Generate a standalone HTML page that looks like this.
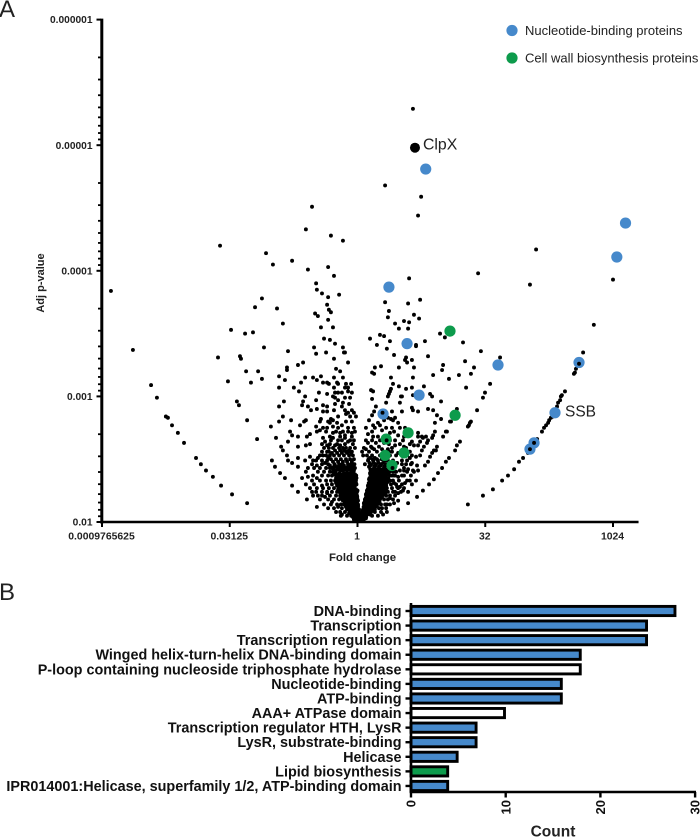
<!DOCTYPE html>
<html lang="en">
<head>
<meta charset="utf-8">
<title>Volcano plot and functional category counts</title>
<style>
html,body{margin:0;padding:0;background:#fff;}
svg{display:block;font-family:"Liberation Sans",Arial,sans-serif;}
</style>
</head>
<body>
<svg id="figure" width="700" height="837" viewBox="0 0 700 837" xmlns="http://www.w3.org/2000/svg">
  <text x="-1" y="17" font-size="24" fill="#222">A</text>
  <text x="-1" y="600" font-size="24" fill="#222">B</text>
  <g id="volcano"></g>
  <text transform="translate(44,283) rotate(-90)" text-anchor="middle" font-size="11" font-weight="bold" fill="#222">Adj p-value</text>
  <text x="362.5" y="561" text-anchor="middle" font-size="11.4" font-weight="bold" fill="#222">Fold change</text>
  <circle cx="512" cy="30.5" r="5.6" fill="#4689cb"/>
  <text x="525" y="35" font-size="13" fill="#222">Nucleotide-binding proteins</text>
  <circle cx="512" cy="58" r="5.6" fill="#0d9b4c"/>
  <text x="525" y="62.5" font-size="13" fill="#222">Cell wall biosynthesis proteins</text>
  <text x="423" y="149.5" font-size="15.8" fill="#222">ClpX</text>
  <text x="565" y="416.5" font-size="15.5" fill="#222">SSB</text>
  <g id="bars"></g>
  <text x="553" y="836.5" text-anchor="middle" font-size="15.5" font-weight="bold" fill="#222">Count</text>
</svg>
<script>
// ---------- Volcano data: log2 fold change and -log10 adjusted p ----------
const topLog2FC=[-5.38,-3.58,-3.31,-2.56,-1.94,-1.78,-2.02,-1.04,-0.57,-1.15,-0.92,2.17,1.08,2.49,2.37,6.99,2.02,4.72,10.0];
const topNegLogP=[4.20,4.14,4.05,4.08,4.01,4.51,4.33,4.28,4.24,4.03,3.96,5.29,4.68,4.59,4.44,4.17,3.94,3.98,3.93];

const leftArcLog2FC=[-9.65,-8.79,-8.08,-7.85,-7.50,-7.42,-7.26,-7.03,-6.79,-6.32,-6.13,-5.93,-5.66,-5.34,-4.91,-4.32];
const leftArcNegLogP=[3.84,3.37,3.09,2.99,2.84,2.83,2.77,2.71,2.63,2.51,2.46,2.41,2.36,2.29,2.22,2.15];

const leftFarLog2FC=[-4.95,-4.40,-4.09,-4.01,-3.74,-3.15,-2.92,-3.66,-5.46,-4.60,-4.56,-4.36,-3.89,-3.74,-4.17,-5.07,-4.72,-4.64,-4.32,-3.93,-3.39,-3.19,-3.07,-2.92,-3.07,-2.88,-3.07,-3.07,-2.84,-2.76,-2.76,-2.72];
const leftFarNegLogP=[3.53,3.50,3.51,3.71,3.78,3.70,3.58,3.39,3.31,3.32,3.30,3.20,3.20,3.14,3.11,3.12,2.96,2.93,2.81,2.66,2.76,2.67,2.80,2.84,2.92,2.96,3.07,3.16,3.13,3.23,3.21,3.36];

const leftUpperLog2FC=[-2.33,-2.13,-2.49,-2.29,-2.21,-2.05,-1.74,-1.59,-1.43,-1.70,-1.62,-1.23,-1.31,-1.08,-0.88,-0.57,-0.53,-0.49,-0.92,-0.37,-0.84,-0.68,-1.43,-0.96,-1.15,-1.66,-1.55,-1.19,-1.12,-1.04,-1.62,-1.59,-1.39,-1.15,-0.72,-0.92,-0.57,-1.35,-1.19,-1.12,-0.80,-0.92,-0.49,-0.37,-0.37,-1.51,-1.19,-0.88,-0.76,-0.96,-0.88];
const leftUpperNegLogP=[3.25,3.27,3.07,3.04,3.11,3.15,3.15,3.13,3.16,3.39,3.34,3.35,3.46,3.45,3.42,3.39,3.35,3.35,3.30,3.27,3.22,3.20,3.55,3.55,3.61,3.66,3.64,3.73,3.69,3.67,3.90,3.85,3.82,3.79,3.81,3.15,3.15,3.11,3.11,3.10,3.11,3.07,3.07,3.07,3.04,3.03,3.02,3.03,3.03,3.00,2.99];

const leftMidLog2FC=[-2.05,-2.13,-2.17,-1.94,-1.62,-1.82,-1.59,-1.35,-1.19,-1.35,-1.19,-0.76,-0.57,-0.61,-0.45,-0.37,-0.14,-2.60,-2.02,-2.09,-2.25,-1.43,-1.47,-1.04,-0.96,-1.08,-0.80,-0.61,-0.96,-2.64,-2.56,-2.33,-2.72,-2.99,-2.33,-1.62,-1.59,-1.35,-1.19,-1.47,-1.98,-1.86,-2.02,-1.86,-0.96,-0.68,-0.49,-0.22,-0.10];
const leftMidNegLogP=[3.00,2.96,2.93,2.92,2.97,2.89,2.90,2.93,2.92,2.88,2.88,2.97,2.95,2.92,2.86,2.87,2.87,2.81,2.81,2.80,2.77,2.82,2.80,2.82,2.81,2.79,2.79,2.77,2.76,2.72,2.69,2.68,2.64,2.60,2.60,2.76,2.72,2.75,2.75,2.73,2.68,2.70,2.61,2.62,2.71,2.71,2.69,2.71,2.72];

const leftLowLog2FC=[-1.35,-1.27,-1.19,-1.12,-0.96,-0.76,-0.49,-0.37,-0.88,-0.68,-0.57,-0.37,-0.22,-2.92,-2.76,-2.72,-2.56,-2.33,-3.35,-3.23,-3.03,-2.84,-2.05,-1.86,-1.74,-1.55,-1.35,-1.15,-1.59,-1.47,-1.27,-1.08,-2.33,-2.17,-1.94,-1.74,-1.59,-2.56,-2.33,-1.98,-1.78,-1.59,-1.39,-1.19,-1.59,-1.39,-1.55,-1.27,-1.00,-0.76,-0.61];
const leftLowNegLogP=[2.67,2.64,2.61,2.59,2.67,2.65,2.67,2.64,2.61,2.61,2.59,2.56,2.56,2.57,2.53,2.49,2.47,2.51,2.49,2.44,2.39,2.35,2.49,2.52,2.49,2.51,2.53,2.51,2.45,2.43,2.47,2.45,2.44,2.35,2.36,2.37,2.35,2.29,2.24,2.18,2.24,2.27,2.24,2.23,2.12,2.29,2.21,2.20,2.16,2.12,2.06];

const rightArcLog2FC=[6.75,9.25,8.83,8.67,8.47,8.51,8.55,8.12,8.00,7.96,7.93,7.85,7.81,7.65,7.57,7.50,7.46,7.38,7.30,7.22,7.03,6.91,6.79,6.67,6.48,6.32,6.13,5.89,5.66,5.30,4.91,4.32];
const rightArcNegLogP=[3.89,3.57,3.35,3.26,3.18,3.19,3.22,3.04,3.01,3.00,2.97,2.95,2.92,2.84,2.83,2.81,2.79,2.77,2.75,2.72,2.66,2.63,2.58,2.55,2.51,2.48,2.42,2.37,2.33,2.26,2.21,2.14];

const innerArcLog2FC=[5.58,5.19,4.99,4.91,4.68,4.44,4.40,4.36,4.32,4.01,3.89,3.82,3.58,3.46,3.31,3.15,2.99,2.80,2.56,2.33,1.98,1.59,4.83,4.21,4.56,4.44,3.97,4.13,4.25,3.89,3.66,3.46,3.35,3.07];
const innerArcNegLogP=[3.31,3.10,3.03,2.99,2.89,2.80,2.79,2.77,2.76,2.64,2.61,2.57,2.51,2.48,2.43,2.39,2.34,2.30,2.25,2.20,2.15,2.10,3.36,3.28,3.23,3.18,3.17,3.43,3.07,2.90,2.80,2.72,2.68,2.57];

const rightUpperLog2FC=[1.08,1.98,2.45,1.23,1.19,2.21,2.41,1.47,1.62,1.82,2.02,1.98,3.23,3.42,0.88,1.04,0.49,0.76,1.27,1.15,2.29,2.29,2.64,1.43,2.76,1.90,1.86,1.94,2.13,0.68,0.92,1.62,2.21,3.35,3.31,0.57,0.65,2.96,3.58,1.31,2.17,1.39,1.62,1.31,1.27,1.90,2.13,2.60,0.53,0.61,2.84,2.92,1.23,1.19,1.70,2.17,0.57,3.27];
const rightUpperNegLogP=[3.75,3.74,3.77,3.68,3.63,3.65,3.62,3.58,3.54,3.60,3.59,3.54,3.50,3.47,3.49,3.48,3.46,3.41,3.44,3.38,3.41,3.40,3.44,3.33,3.32,3.31,3.29,3.27,3.29,3.23,3.24,3.23,3.23,3.25,3.21,3.19,3.18,3.17,3.14,3.15,3.15,3.10,3.08,3.06,3.04,3.06,3.07,3.08,3.05,3.04,3.02,3.00,3.02,3.00,3.00,3.01,2.98,2.96];

const rightMidLog2FC=[1.12,1.66,1.74,2.13,2.17,2.37,1.74,2.76,2.96,3.11,3.27,3.03,3.50,3.62,0.72,0.57,1.47,1.31,1.19,0.80,0.88,0.61,0.41,0.57,0.68,0.96,1.59,1.66,1.43,1.27,1.59,2.37,2.52,2.56,2.68,2.76,2.72,2.60,2.52,2.45,2.37,2.45,2.37,3.03,2.96,2.92,3.11,2.99,2.92,2.84,2.76,2.64];
const rightMidNegLogP=[2.95,2.95,3.00,2.91,2.89,2.88,2.88,2.90,2.89,2.85,2.82,2.79,2.72,2.80,2.92,2.85,2.83,2.82,2.83,2.79,2.77,2.77,2.70,2.72,2.75,2.73,2.79,2.75,2.72,2.71,2.69,2.71,2.68,2.67,2.68,2.65,2.63,2.60,2.57,2.53,2.68,2.64,2.61,2.72,2.69,2.67,2.60,2.57,2.55,2.52,2.48,2.45];

const rightLowLog2FC=[2.13,2.21,2.05,2.13,2.29,2.33,2.37,2.17,1.98,1.82,1.74,2.05,1.86,2.29,1.66,1.78,1.98,1.59,1.43,1.55,1.39,1.59,1.27,1.43,0.96,1.00,1.15,1.47,1.59,1.66,1.55,1.39,1.35,1.47,1.59,1.82,1.94,1.27,1.08];
const rightLowNegLogP=[2.64,2.61,2.51,2.47,2.52,2.45,2.41,2.41,2.42,2.41,2.37,2.33,2.31,2.33,2.28,2.25,2.24,2.23,2.31,2.28,2.24,2.17,2.19,2.15,2.11,2.06,2.14,2.37,2.36,2.41,2.47,2.49,2.56,2.61,2.55,2.60,2.53,2.65,2.68];

// Dense core of the plot, read row by row
const leftCoreRowNegLogP=[2.57,2.55,2.53,2.50,2.48,2.45,2.43,2.41,2.38,2.36,2.33,2.31,2.29,2.26,2.24,2.21,2.19,2.17,2.14,2.12,2.10,2.07,2.05,2.02,2.01];
const leftCoreRowLog2FC=[
[-0.88,-0.68,-0.53,-0.33],
[-1.00,-0.80,-0.61,-0.41,-0.25],
[-0.92,-0.72,-0.53,-0.33,-0.18],
[-1.04,-0.84,-0.65,-0.45,-0.29,-0.14],
[-0.96,-0.76,-0.57,-0.41,-0.22],
[-0.88,-0.68,-0.53,-0.33,-0.18],
[-1.00,-0.80,-0.65,-0.45,-0.29,-0.10],
[-0.84,-0.68,-0.57,-0.41,-0.25,-0.14],
[-0.92,-0.76,-0.65,-0.49,-0.37,-0.22,-0.10],
[-0.80,-0.68,-0.57,-0.45,-0.33,-0.22,-0.10],
[-0.88,-0.76,-0.65,-0.53,-0.41,-0.29,-0.18,-0.06],
[-0.84,-0.72,-0.61,-0.49,-0.37,-0.25,-0.14,-0.06],
[-0.80,-0.68,-0.57,-0.45,-0.33,-0.22,-0.10],
[-0.76,-0.65,-0.53,-0.41,-0.29,-0.18,-0.06],
[-0.72,-0.61,-0.49,-0.37,-0.25,-0.14,-0.02],
[-0.68,-0.57,-0.45,-0.33,-0.22,-0.10,-0.02],
[-0.65,-0.53,-0.41,-0.29,-0.18,-0.06],
[-0.57,-0.45,-0.33,-0.22,-0.10,0.02],
[-0.53,-0.41,-0.29,-0.18,-0.06,0.02],
[-0.45,-0.33,-0.22,-0.10,0.02],
[-0.41,-0.29,-0.18,-0.06,0.06],
[-0.33,-0.22,-0.10,0.02],
[-0.25,-0.14,-0.02,0.10],
[-0.14,-0.02,0.10],
[-0.06,0.06]];

const rightCoreRowNegLogP=[2.65,2.63,2.60,2.58,2.56,2.53,2.51,2.49,2.46,2.44,2.41,2.39,2.37,2.34,2.32,2.29,2.27,2.25,2.22,2.20,2.18,2.15,2.13,2.10,2.08,2.06,2.03,2.02];
const rightCoreRowLog2FC=[
[0.57,0.88],
[0.41,0.72,1.04],
[0.53,0.84],
[0.33,0.65,0.96,1.19],
[0.45,0.76,1.08],
[0.37,0.57,0.88,1.15],
[0.49,0.68,1.00],
[0.41,0.61,0.80,1.08],
[0.53,0.72,0.92,1.12],
[0.45,0.65,0.84,1.04,1.23],
[0.57,0.68,0.80,0.92,1.04,1.15,1.31],
[0.49,0.61,0.72,0.84,0.96,1.08,1.19],
[0.53,0.65,0.76,0.88,1.00,1.12,1.27],
[0.45,0.57,0.68,0.80,0.92,1.04,1.15],
[0.49,0.61,0.72,0.84,0.96,1.08,1.19],
[0.41,0.53,0.65,0.76,0.88,1.00,1.12],
[0.45,0.57,0.68,0.80,0.92,1.04],
[0.37,0.49,0.61,0.72,0.84,0.96,1.08],
[0.33,0.45,0.57,0.68,0.80,0.92,1.04],
[0.37,0.49,0.61,0.72,0.84,0.96],
[0.29,0.41,0.53,0.65,0.76,0.88],
[0.25,0.37,0.49,0.61,0.72,0.84],
[0.29,0.41,0.53,0.65,0.76],
[0.22,0.33,0.45,0.57,0.68],
[0.18,0.29,0.41,0.53],
[0.14,0.25,0.37,0.49],
[0.10,0.22,0.33],
[0.02,0.14,0.25]];

// Points filling the gaps between the core rows
const leftFillRowNegLogP=[2.46,2.44,2.42,2.39,2.37,2.35,2.32,2.30,2.27,2.25,2.23,2.20,2.18,2.15,2.13,2.11,2.09,2.06,2.04];
const leftFillRowLog2FC=[
[-0.90,-0.72,-0.60,-0.37,-0.25,-0.12],
[-0.92,-0.75,-0.58,-0.38,-0.22],
[-0.95,-0.72,-0.50,-0.33,-0.17],
[-0.86,-0.70,-0.53,-0.40,-0.28,-0.16],
[-0.84,-0.72,-0.60,-0.42,-0.30,-0.15,-0.05],
[-0.84,-0.72,-0.62,-0.50,-0.38,-0.27,-0.15,-0.04],
[-0.82,-0.70,-0.58,-0.46,-0.34,-0.20,-0.08],
[-0.78,-0.66,-0.54,-0.42,-0.30,-0.18,-0.04],
[-0.74,-0.62,-0.50,-0.38,-0.26,-0.12],
[-0.70,-0.58,-0.46,-0.34,-0.20,-0.08,0.00],
[-0.66,-0.54,-0.42,-0.30,-0.16,-0.04],
[-0.62,-0.50,-0.38,-0.26,-0.14,-0.01],
[-0.58,-0.46,-0.34,-0.20,-0.08,0.00],
[-0.50,-0.38,-0.26,-0.14,-0.02],
[-0.46,-0.34,-0.20,-0.08,0.02],
[-0.38,-0.26,-0.14,-0.02],
[-0.30,-0.18,-0.06,0.04],
[-0.22,-0.10,0.02,0.10],
[-0.18,-0.06,0.06]];

const rightFillRowNegLogP=[2.50,2.47,2.45,2.42,2.40,2.38,2.35,2.33,2.31,2.28,2.26,2.23,2.21,2.19,2.16,2.14,2.12,2.09,2.07,2.04];
const rightFillRowLog2FC=[
[0.43,0.60,0.76,0.95],
[0.47,0.64,0.82,1.00],
[0.50,0.70,0.90,1.10],
[0.50,0.62,0.75,0.86,0.98,1.10,1.25],
[0.52,0.64,0.76,0.88,1.00,1.12,1.25],
[0.50,0.62,0.74,0.86,0.98,1.10,1.22],
[0.47,0.59,0.70,0.82,0.94,1.06,1.20],
[0.48,0.60,0.72,0.84,0.96,1.08,1.18],
[0.44,0.56,0.68,0.80,0.92,1.04,1.14],
[0.42,0.54,0.66,0.78,0.90,1.02,1.10],
[0.40,0.52,0.64,0.76,0.88,1.00],
[0.36,0.48,0.60,0.72,0.84,0.96,1.08],
[0.34,0.46,0.58,0.70,0.82,0.94],
[0.32,0.44,0.56,0.68,0.80,0.90],
[0.28,0.40,0.52,0.64,0.76,0.86],
[0.26,0.38,0.50,0.62,0.74],
[0.24,0.36,0.48,0.60,0.70],
[0.20,0.32,0.44,0.55],
[0.14,0.26,0.38,0.48],
[0.10,0.22,0.34]];

// Moderately dense halo around the core, read row by row
const leftHaloRowNegLogP=[3.10,3.03,2.99,2.94,2.89,2.84,2.80,2.75,2.72,2.68,2.65,2.62,2.59,2.56,2.53,2.49,2.46,2.43,2.40,2.37,2.33,2.30,2.27,2.24,2.21,2.18,2.14,2.11,2.08,2.05];
const leftHaloRowLog2FC=[
[-0.76,-0.45,-0.25],
[-0.61,-0.22],
[-0.49,-0.29],
[-0.88,-0.33],
[-0.92,-0.49,-0.22],
[-0.76,-0.29,-0.06],
[-1.15,-0.45,-0.22],
[-0.76,-0.37,-0.14],
[-1.23,-0.84,-0.57,-0.37],
[-1.08,-0.68,-0.22],
[-1.04,-0.61,-0.29,-0.14],
[-1.39,-1.08,-0.80,-0.49,-0.18],
[-1.31,-0.96,-0.72,-0.45,-0.29,-0.10],
[-1.39,-1.19,-1.12,-0.45],
[-1.47,-1.23,-1.08],
[-1.62,-1.39,-1.19],
[-1.78,-1.39,-1.15],
[-1.94,-1.70,-1.23,-1.08],
[-2.02,-1.55,-1.31,-1.08,-0.96],
[-1.39,-1.15,-1.00],
[-1.78,-1.47,-1.23,-1.04],
[-2.02,-1.70,-1.19,-1.00],
[-1.86,-1.35,-1.12,-0.92],
[-1.62,-1.19,-1.00,-0.80],
[-1.74,-1.39,-1.08,-0.84],
[-1.47,-1.15,-0.92,-0.72],
[-1.31,-1.04,-0.80,-0.65],
[-1.15,-0.92,-0.61],
[-0.84,-0.68,-0.49],
[-0.65,-0.41]];

const rightHaloRowNegLogP=[2.88,2.81,2.75,2.68,2.65,2.62,2.59,2.56,2.53,2.49,2.46,2.43,2.40,2.37,2.33,2.30,2.27,2.24,2.21,2.18,2.14,2.11,2.08,2.05];
const rightHaloRowLog2FC=[
[0.65,1.04,1.35],
[0.45,1.04,1.39],
[0.33,1.12,1.35,1.86],
[0.61,0.80,1.82],
[0.33,1.47,1.78],
[1.23,1.66,2.05],
[0.25,0.57,1.35,1.90],
[0.18,1.23,1.74,2.05],
[0.22,1.27,1.51,2.13],
[1.19,1.74,1.94],
[0.29,1.35,1.74,1.90,2.09],
[1.27,1.43,1.82],
[1.39,1.51,1.94,2.21],
[1.35,1.43,1.82,2.09],
[1.27,1.39,1.62,1.94],
[1.31,1.51,1.74,2.13],
[1.15,1.35,1.59,1.82],
[1.19,1.47,1.70],
[1.12,1.27,1.47],
[1.04,1.19,1.39],
[0.92,1.08,1.27],
[0.84,1.12],
[0.68,0.92,1.15],
[0.57,0.80]];

// Highlighted proteins
const nucleotideLog2FC=[2.67,10.49,10.15,1.23,1.94,5.50,8.67,2.41,1.00,7.73,6.91,6.75];
const nucleotideNegLogP=[4.81,4.38,4.11,3.87,3.42,3.25,3.27,3.01,2.86,2.87,2.63,2.58];
const cellWallLog2FC=[3.62,3.82,1.98,1.12,1.82,1.08,1.35];
const cellWallNegLogP=[3.52,2.85,2.71,2.66,2.55,2.53,2.45];
const clpxLog2FC=[2.25];
const clpxNegLogP=[4.98];
// Small dots visible on top of highlighted markers
const overlayLog2FC=[0.98,6.91,6.75,8.67,1.37,1.14];
const overlayNegLogP=[2.87,2.63,2.58,3.26,2.43,2.65];

const xTickValues=[-10,-5,0,5,10];
const xTickLabels=["0.0009765625","0.03125","1","32","1024"];
const yTickValues=[2,3,4,5,6];
const yTickLabels=["0.01","0.001","0.0001","0.00001","0.000001"];
const minorMultipliers=[2,3,4,5,6,7,8,9];

// ---------- Bar data ----------
const barCategories=["DNA-binding","Transcription","Transcription regulation","Winged helix-turn-helix DNA-binding domain","P-loop containing nucleoside triphosphate hydrolase","Nucleotide-binding","ATP-binding","AAA+ ATPase domain","Transcription regulator HTH, LysR","LysR, substrate-binding","Helicase","Lipid biosynthesis","IPR014001:Helicase, superfamily 1/2, ATP-binding domain"];
const barCounts=[28,25,25,18,18,16,16,10,7,7,5,4,4];
const barGroups=["n","n","n","n","o","n","n","o","n","n","n","c","n"];
const countTicks=[0,10,20,30];

// ---------- Axis functions ----------
const SVGNS="http://www.w3.org/2000/svg";
function xScale(v){return 357.5+v*25.55;}
function yScale(v){return 522-(v-2)*125.6;}
function countScale(v){return 411+v*9.47;}
function rowScale(i){return 611+i*14.58;}

function make(tag,attrs,parent){
  const el=document.createElementNS(SVGNS,tag);
  for(const k in attrs){el.setAttribute(k,attrs[k]);}
  parent.appendChild(el);
  return el;
}

const volcano=document.getElementById("volcano");

function dot(x,y,r,fill,name){
  const el=make("circle",{cx:xScale(x).toFixed(2),cy:yScale(y).toFixed(2),r:r,fill:fill},volcano);
  
  
}

function drawSeries(xs,ys,r,fill,name){
  const n=Math.min(xs.length,ys.length);
  for(let i=0;i<n;i++){dot(xs[i],ys[i],r,fill,name);}
}

function drawRows(rowYs,rowXs,r,fill,name){
  rowYs.forEach(function(y,i){
    rowXs[i].forEach(function(x){dot(x,y,r,fill,name);});
  });
}

// Background points
const DOT_R=1.95;
drawSeries(topLog2FC,topNegLogP,DOT_R,"#000","protein-point");
drawSeries(leftArcLog2FC,leftArcNegLogP,DOT_R,"#000","protein-point");
drawSeries(leftFarLog2FC,leftFarNegLogP,DOT_R,"#000","protein-point");
drawSeries(leftUpperLog2FC,leftUpperNegLogP,DOT_R,"#000","protein-point");
drawSeries(leftMidLog2FC,leftMidNegLogP,DOT_R,"#000","protein-point");
drawSeries(leftLowLog2FC,leftLowNegLogP,DOT_R,"#000","protein-point");
drawSeries(rightArcLog2FC,rightArcNegLogP,DOT_R,"#000","protein-point");
drawSeries(innerArcLog2FC,innerArcNegLogP,DOT_R,"#000","protein-point");
drawSeries(rightUpperLog2FC,rightUpperNegLogP,DOT_R,"#000","protein-point");
drawSeries(rightMidLog2FC,rightMidNegLogP,DOT_R,"#000","protein-point");
drawSeries(rightLowLog2FC,rightLowNegLogP,DOT_R,"#000","protein-point");
drawRows(leftCoreRowNegLogP,leftCoreRowLog2FC,DOT_R,"#000","protein-point");
drawRows(rightCoreRowNegLogP,rightCoreRowLog2FC,DOT_R,"#000","protein-point");
drawRows(leftFillRowNegLogP,leftFillRowLog2FC,DOT_R,"#000","protein-point");
drawRows(rightFillRowNegLogP,rightFillRowLog2FC,DOT_R,"#000","protein-point");
drawRows(leftHaloRowNegLogP,leftHaloRowLog2FC,DOT_R,"#000","protein-point");
drawRows(rightHaloRowNegLogP,rightHaloRowLog2FC,DOT_R,"#000","protein-point");

// Highlighted points
drawSeries(nucleotideLog2FC,nucleotideNegLogP,5.6,"#4689cb","nucleotide-binding-point");
drawSeries(cellWallLog2FC,cellWallNegLogP,5.6,"#0d9b4c","cell-wall-point");
drawSeries(clpxLog2FC,clpxNegLogP,5,"#000","clpx-point");
drawSeries(overlayLog2FC,overlayNegLogP,DOT_R,"#000","protein-point");

// Volcano axes
const yAxisLine=make("line",{x1:101.8,x2:101.8,y1:yScale(6)-1,y2:yScale(2)+1.5,stroke:"#000","stroke-width":3},volcano);


const xAxisLine=make("line",{x1:100.3,x2:xScale(11),y1:522,y2:522,stroke:"#000","stroke-width":2.6},volcano);



yTickValues.forEach(function(v,i){
  const t=make("line",{x1:96.5,x2:101,y1:yScale(v),y2:yScale(v),stroke:"#000","stroke-width":2},volcano);
  
  
  const l=make("text",{x:92.5,y:yScale(v)+3.6,"text-anchor":"end","font-size":10.2,"font-weight":"bold",fill:"#222"},volcano);
  
  
  l.textContent=yTickLabels[i];
  if(v>2){
    minorMultipliers.forEach(function(m){
      const mv=v-Math.log10(m);
      const mt=make("line",{x1:98,x2:101,y1:yScale(mv),y2:yScale(mv),stroke:"#000","stroke-width":1.8},volcano);
      
      
    });
  }
});

xTickValues.forEach(function(v,i){
  const t=make("line",{x1:xScale(v),x2:xScale(v),y1:522,y2:527,stroke:"#000","stroke-width":2},volcano);
  
  
  const l=make("text",{x:xScale(v)-0.5,y:539.5,"text-anchor":"middle","font-size":10.4,"font-weight":"bold",fill:"#222"},volcano);
  
  
  l.textContent=xTickLabels[i];
});

// Bar chart
const barsGroup=document.getElementById("bars");
const groupFill={n:"#4689cb",o:"#ffffff",c:"#0d9b4c"};
barCategories.forEach(function(name,i){
  const y=rowScale(i);
  const bar=make("rect",{x:countScale(0),y:y-4.6,width:countScale(barCounts[i])-countScale(0)-1.2,height:9.2,fill:groupFill[barGroups[i]],stroke:"#000","stroke-width":2.9},barsGroup);
  
  
  const tick=make("line",{x1:405.5,x2:411,y1:y,y2:y,stroke:"#000","stroke-width":2.4},barsGroup);
  
  
  const label=make("text",{x:401.5,y:y+5,"text-anchor":"end","font-size":14.4,"font-weight":"bold",fill:"#111"},barsGroup);
  
  
  label.textContent=name;
});
const barYAxis=make("line",{x1:411,x2:411,y1:603,y2:793,stroke:"#000","stroke-width":2.6},barsGroup);


const barXAxis=make("line",{x1:409.7,x2:696,y1:792,y2:792,stroke:"#000","stroke-width":2.6},barsGroup);


countTicks.forEach(function(v){
  const x=countScale(v);
  const t=make("line",{x1:x,x2:x,y1:792,y2:797.5,stroke:"#000","stroke-width":2.4},barsGroup);
  
  
  const l=make("text",{transform:"translate("+(x+4.6)+",800) rotate(-90)","text-anchor":"end","font-size":13,"font-weight":"bold",fill:"#111"},barsGroup);
  
  
  l.textContent=String(v);
});
</script>
</body>
</html>
